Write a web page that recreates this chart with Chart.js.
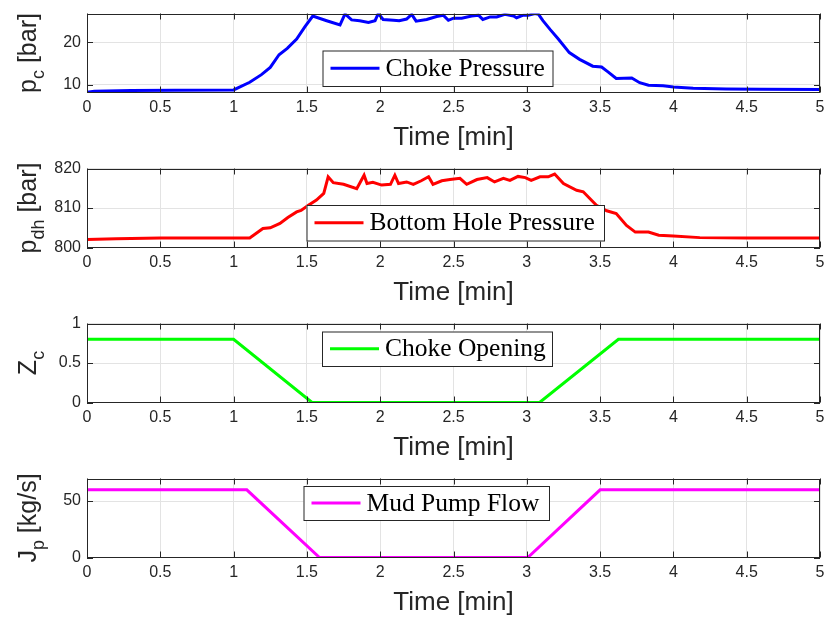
<!DOCTYPE html>
<html>
<head>
<meta charset="utf-8">
<script src="https://cdn.jsdelivr.net/npm/chart.js@4.4.1/dist/chart.umd.min.js"></script>
<style>
  html, body { margin: 0; padding: 0; background: #fff; }
  #wrap { position: relative; width: 824px; height: 621px; }
  canvas { position: absolute; left: 0; }
</style>
</head>
<body>
<div id="wrap">
  <canvas id="c1" width="824" height="155" style="top:0px"></canvas>
  <canvas id="c2" width="824" height="155" style="top:155px"></canvas>
  <canvas id="c3" width="824" height="155" style="top:310px"></canvas>
  <canvas id="c4" width="824" height="155" style="top:465px"></canvas>
</div>
<script>
// eje de tiempo [min]
const timeTicks = [0, 0.5, 1, 1.5, 2, 2.5, 3, 3.5, 4, 4.5, 5];

// presion en el choke [bar]
const chokeTime = [0, 0.05, 0.3, 0.6, 1.0, 1.11, 1.19, 1.25, 1.31, 1.366, 1.43, 1.487, 1.54, 1.635, 1.726, 1.76,
  1.805, 1.86, 1.92, 1.965, 1.987, 2.02, 2.09, 2.13, 2.18, 2.215, 2.245, 2.317, 2.385, 2.43, 2.465, 2.5,
  2.556, 2.624, 2.67, 2.7, 2.75, 2.795, 2.85, 2.91, 2.93, 2.976, 3.01, 3.056, 3.08, 3.11, 3.16, 3.215,
  3.29, 3.36, 3.45, 3.51, 3.556, 3.61, 3.716, 3.77, 3.83, 3.93, 4.0, 4.135, 4.36, 4.59, 5.0];
const chokePressure = [8.25, 8.5, 8.65, 8.75, 8.8, 10.6, 12.4, 14.1, 17.1, 18.6, 20.8, 23.7, 26.2, 25.1, 24.1, 26.7,
  25.3, 25.1, 24.7, 25.1, 26.8, 25.4, 25.2, 25.1, 25.5, 26.6, 25.0, 25.4, 26.1, 26.4, 25.2, 25.7,
  25.7, 26.2, 26.4, 25.4, 26.0, 26.0, 26.6, 26.2, 25.8, 26.4, 26.4, 26.8, 26.6, 25.1, 23.0, 20.8,
  17.6, 16.0, 14.4, 14.2, 13.0, 11.5, 11.6, 10.5, 9.9, 9.8, 9.5, 9.2, 9.0, 8.95, 8.9];
const chokeTicks = [10, 20];

// presion de fondo [bar]
const bottomTime = [0, 0.2, 0.5, 1.11, 1.2, 1.25, 1.316, 1.37, 1.43, 1.46, 1.51, 1.565, 1.615, 1.645, 1.68, 1.75,
  1.84, 1.89, 1.91, 1.95, 2.01, 2.07, 2.1, 2.125, 2.18, 2.226, 2.28, 2.33, 2.36, 2.42, 2.476, 2.544,
  2.59, 2.66, 2.73, 2.78, 2.84, 2.885, 2.94, 2.99, 3.03, 3.09, 3.146, 3.19, 3.25, 3.34, 3.385, 3.475,
  3.545, 3.61, 3.68, 3.74, 3.83, 3.9, 4.0, 4.18, 4.5, 5.0];
const bottomPressure = [802.0, 802.2, 802.4, 802.4, 804.8, 805.0, 806.1, 807.6, 809.0, 809.4, 810.7, 812.0, 813.7, 817.9, 816.4, 816.0,
  814.9, 818.3, 816.2, 816.5, 815.8, 816.0, 818.3, 816.2, 816.6, 816.0, 816.9, 817.9, 816.0, 816.9, 817.2, 817.5,
  816.0, 817.2, 817.7, 816.6, 817.5, 817.0, 818.0, 817.7, 817.0, 817.9, 817.9, 818.6, 816.2, 814.5, 814.1, 810.7,
  809.3, 808.6, 805.6, 803.9, 803.9, 803.1, 802.9, 802.5, 802.4, 802.4];
const bottomTicks = [800, 810, 820];

// apertura del choke
const openingTime = [0, 1.0, 1.535, 3.087, 3.625, 5];
const openingValues = [0.8, 0.8, 0, 0, 0.8, 0.8];
const openingTicks = [0, 0.5, 1];

// caudal de la bomba [kg/s]
const pumpTime = [0, 1.09, 1.586, 3.007, 3.5, 5];
const pumpFlow = [60, 60, 0, 0, 60, 60];
const pumpTicks = [0, 50];

const axisColor = '#262626';
const sansFont = '"Liberation Sans", Arial, Helvetica, sans-serif';

// marco, ticks hacia adentro, leyenda y titulo del eje y con subindice
const panelDecor = {
  id: 'panelDecor',
  afterDatasetsDraw(chart, args, opts) {
    const {ctx, chartArea: a, scales: {x, y}} = chart;
    ctx.save();
    ctx.strokeStyle = axisColor;
    ctx.lineWidth = 1;
    ctx.beginPath();
    x.ticks.forEach(t => {
      const px = Math.round(x.getPixelForValue(t.value)) + 0.5;
      ctx.moveTo(px, a.bottom); ctx.lineTo(px, a.bottom - 6);
      ctx.moveTo(px, a.top); ctx.lineTo(px, a.top + 6);
    });
    y.ticks.forEach(t => {
      const py = Math.round(y.getPixelForValue(t.value)) + 0.5;
      ctx.moveTo(a.left, py); ctx.lineTo(a.left + 6, py);
      ctx.moveTo(a.right, py); ctx.lineTo(a.right - 6, py);
    });
    ctx.stroke();
    ctx.strokeRect(Math.round(a.left) + 0.5, Math.round(a.top) + 0.5,
      Math.round(a.width) - 1, Math.round(a.height) - 1);

    // leyenda
    const b = opts.legend;
    const ds = chart.data.datasets[0];
    ctx.fillStyle = '#fff';
    ctx.fillRect(b.left, b.top, b.width, b.height);
    ctx.strokeStyle = axisColor;
    ctx.strokeRect(b.left + 0.5, b.top + 0.5, b.width, b.height);
    const my = b.top + b.height / 2;
    ctx.strokeStyle = ds.borderColor;
    ctx.lineWidth = 3;
    ctx.beginPath();
    ctx.moveTo(b.left + 8, my);
    ctx.lineTo(b.left + 57, my);
    ctx.stroke();
    ctx.fillStyle = '#000';
    ctx.font = '25.5px "Liberation Serif", "Times New Roman", serif';
    ctx.textBaseline = 'middle';
    ctx.textAlign = 'left';
    ctx.fillText(ds.label, b.left + 63, my + 1);
    ctx.restore();
  },
  afterDraw(chart, args, opts) {
    const {ctx, chartArea: a} = chart;
    const t = opts.yTitle;
    const mainFont = '25px ' + sansFont;
    const subFont = '18px ' + sansFont;
    ctx.save();
    ctx.fillStyle = axisColor;
    ctx.textBaseline = 'alphabetic';
    ctx.textAlign = 'left';
    ctx.font = mainFont;
    const wMain = ctx.measureText(t.main).width;
    const wRest = ctx.measureText(t.rest).width;
    ctx.font = subFont;
    const wSub = ctx.measureText(t.sub).width;
    const total = wMain + wSub + wRest;
    ctx.translate(36, (a.top + a.bottom) / 2);
    ctx.rotate(-Math.PI / 2);
    let x0 = -total / 2;
    ctx.font = mainFont;
    ctx.fillText(t.main, x0, 0);
    ctx.font = subFont;
    ctx.fillText(t.sub, x0 + wMain, 8);
    ctx.font = mainFont;
    ctx.fillText(t.rest, x0 + wMain + wSub, 0);
    ctx.restore();
  }
};

function makePanel(id, times, values, color, label, yMin, yMax, yTicks, yTitle, legendBox) {
  return new Chart(document.getElementById(id), {
    type: 'line',
    data: {
      datasets: [{
        label: label,
        data: times.map((t, i) => ({x: t, y: values[i]})),
        borderColor: color,
        borderWidth: 3,
        pointRadius: 0,
        tension: 0,
        fill: false
      }]
    },
    options: {
      responsive: false,
      animation: false,
      devicePixelRatio: 1,
      layout: {padding: {top: 13.5, right: 4, left: 0, bottom: 0}},
      plugins: {
        legend: {display: false},
        tooltip: {enabled: false},
        panelDecor: {yTitle: yTitle, legend: legendBox}
      },
      scales: {
        x: {
          type: 'linear',
          min: 0,
          max: 5,
          afterBuildTicks: s => { s.ticks = timeTicks.map(v => ({value: v})); },
          afterFit: s => { s.height = 62.5; s.paddingLeft = 0; s.paddingRight = 0; },
          grid: {color: '#e3e3e3', drawTicks: false},
          border: {display: false},
          ticks: {
            padding: 5, color: axisColor, maxRotation: 0, autoSkip: false,
            font: {family: sansFont, size: 16},
            callback: v => String(v)
          },
          title: {
            display: true, text: 'Time [min]', color: axisColor,
            font: {family: sansFont, size: 26}, padding: {top: 0, bottom: 2}
          }
        },
        y: {
          type: 'linear',
          min: yMin,
          max: yMax,
          afterBuildTicks: s => { s.ticks = yTicks.map(v => ({value: v})); },
          afterFit: s => { s.width = 87; s.paddingTop = 0; s.paddingBottom = 0; },
          grid: {color: '#e3e3e3', drawTicks: false},
          border: {display: false},
          ticks: {
            padding: 6, color: axisColor, autoSkip: false,
            font: {family: sansFont, size: 16},
            callback: v => String(v)
          }
        }
      }
    },
    plugins: [panelDecor]
  });
}

makePanel('c1', chokeTime, chokePressure, '#0000ff', 'Choke Pressure', 8.2, 26.8, chokeTicks,
  {main: 'p', sub: 'c', rest: ' [bar]'}, {left: 322.5, top: 50.5, width: 230, height: 35.5});
makePanel('c2', bottomTime, bottomPressure, '#ff0000', 'Bottom Hole Pressure', 800, 820, bottomTicks,
  {main: 'p', sub: 'dh', rest: ' [bar]'}, {left: 306.5, top: 50, width: 297.5, height: 35.5});
makePanel('c3', openingTime, openingValues, '#00ff00', 'Choke Opening', 0, 1, openingTicks,
  {main: 'Z', sub: 'c', rest: ''}, {left: 322, top: 21.5, width: 230, height: 34.5});
makePanel('c4', pumpTime, pumpFlow, '#ff00ff', 'Mud Pump Flow', 0, 70, pumpTicks,
  {main: 'J', sub: 'p', rest: ' [kg/s]'}, {left: 303.5, top: 21, width: 245.5, height: 34});
</script>
</body>
</html>
